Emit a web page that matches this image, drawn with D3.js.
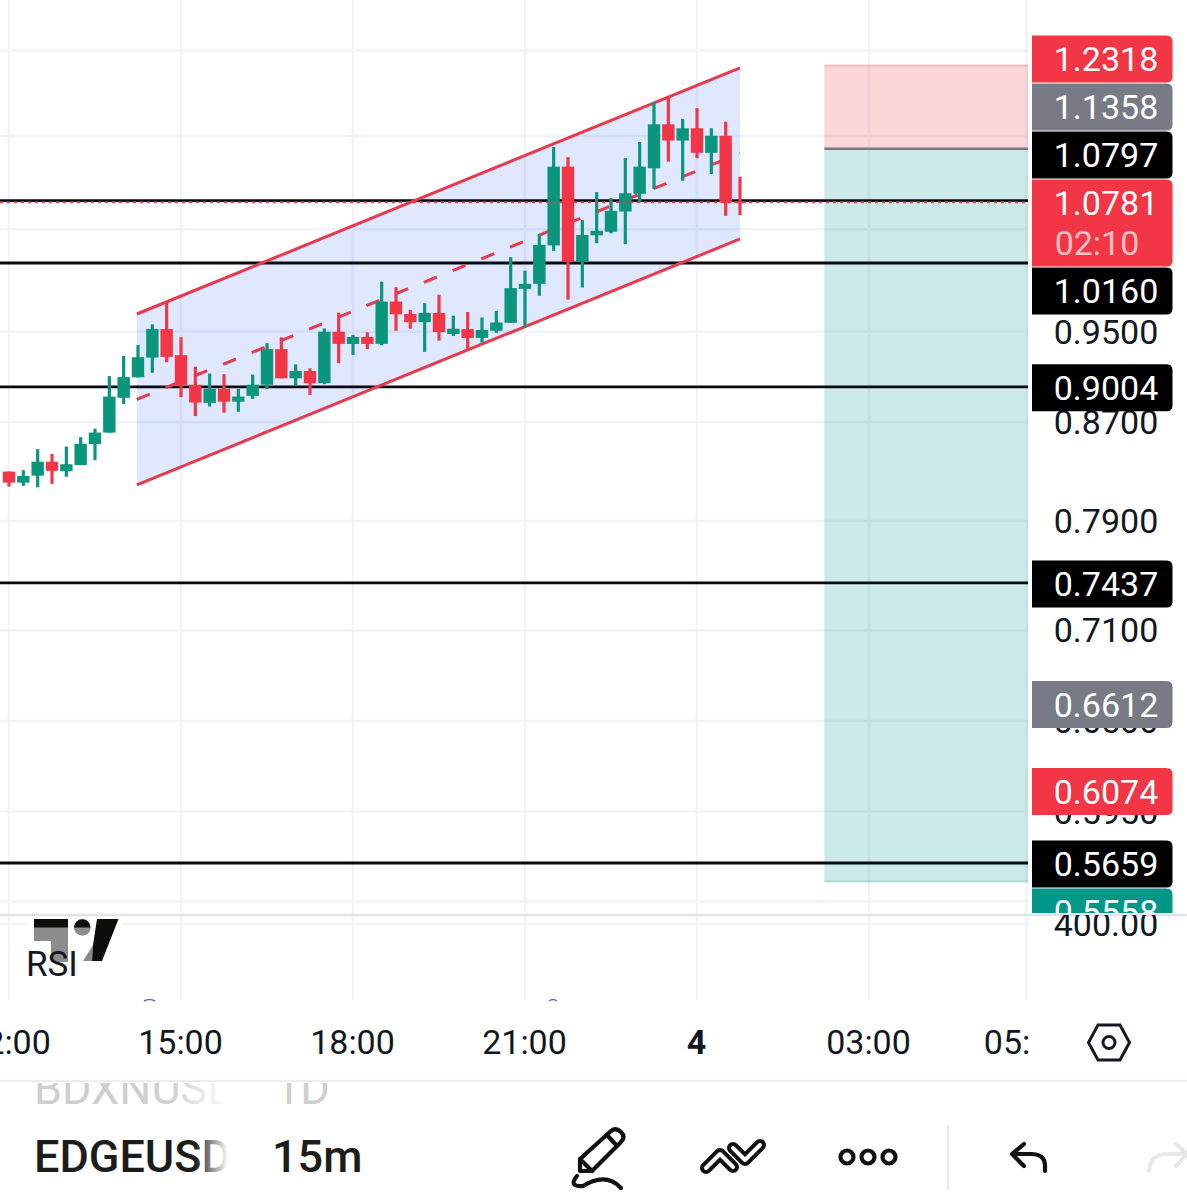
<!DOCTYPE html>
<html><head><meta charset="utf-8">
<script src="https://cdn.jsdelivr.net/npm/d3@7/dist/d3.min.js"></script>
<style>html,body{margin:0;background:#fff}svg{display:block}text{font-family:Roboto,sans-serif}</style>
</head><body><svg id="c" width="1187" height="1200"></svg>
<script>
// 15-minute candles, first one at 12:00
const firstHour = 12;
const opens  = [.8290,.8201,.8257,.8370,.8293,.8343,.8515,.8611,.8908,.9088,.9265,.9526,.9286,.9023,.8864,.8986,.8875,.8925,.9023,.9341,.9079,.9144,.9036,.9501,.9389,.9453,.9389,.9785,.9667,.9590,.9677,.9480,.9526,.9444,.9510,.9584,.9907,.9955,1.0336,1.1161,1.0174,1.0438,1.0474,1.0683,1.0869,1.1143,1.1632,1.1449,1.1587,1.1313,1.1502,1.0790];
const highs  = [.8290,.8301,.8473,.8434,.8495,.8573,.8644,.9099,.9280,.9380,.9571,.9785,.9450,.9183,.9122,.9116,.8986,.9113,.9396,.9450,.9204,.9168,.9532,.9680,.9471,.9496,.9977,.9923,.9706,.9770,.9850,.9651,.9686,.9635,.9696,1.0218,1.0084,1.0451,1.1376,1.1265,1.0596,1.0887,1.0824,1.1254,1.1432,1.1887,1.1945,1.1693,1.1817,1.1587,1.1662,1.1051];
const lows   = [.8169,.8175,.8164,.8191,.8248,.8343,.8382,.8611,.8855,.9088,.9128,.9223,.8914,.8751,.8832,.8780,.8788,.8899,.8983,.9079,.9012,.8934,.9028,.9214,.9289,.9341,.9377,.9510,.9529,.9316,.9419,.9462,.9341,.9401,.9492,.9584,.9541,.9840,1.0281,.9802,.9920,1.0358,1.0458,1.0348,1.0778,1.0921,1.1216,1.1009,1.1254,1.1080,1.0638,1.0645];
const closes = [.8201,.8254,.8370,.8296,.8349,.8517,.8611,.8919,.9090,.9268,.9526,.9271,.9021,.8867,.8986,.8875,.8919,.9023,.9341,.9079,.9144,.9036,.9501,.9389,.9453,.9389,.9785,.9664,.9590,.9677,.9498,.9529,.9444,.9517,.9587,.9914,.9955,1.0341,1.1161,1.0174,1.0441,1.0484,1.0690,1.0876,1.1161,1.1632,1.1449,1.1587,1.1313,1.1502,1.0778,1.0781];

// Drawn channel: [start, end]
const channelHours = [14.23, 24.75];
const channelTop = [.9667, 1.2291];
const channelMid = [.8894, 1.1308];
const channelBottom = [.8183, 1.0401];

// Horizontal levels and last price
const levels = [1.0797, 1.0160, .9004, .7437, .5659];
const lastPrice = 1.0781;

// Short position tool
const positionStartHour = 26.22;
const stopPrice = 1.2318, entryPrice = 1.1358, targetPrice = .5558;

// Axis ticks: grid lines for all, labels only where not fully hidden by a tag
const gridPrices = [1.25, 1.15, 1.05, .95, .87, .79, .71, .65, .595, .545];
const priceTicks = [.95, .87, .79, .71, .65, .595];
const timeTicks = [12, 15, 18, 21, 24, 27, 29.75];
const timeLabels = ["12:00", "15:00", "18:00", "21:00", "4", "03:00", "05:45"];
const rsiTickLabels = ["400.00"];

// Right-hand price tags
const stackedTags = [
  {t:"1.2318", c:"#F23645"}, {t:"1.1358", c:"#787B86"}, {t:"1.0797", c:"#000000"},
  {t:"1.0781", sub:"02:10", c:"#F23645"}, {t:"1.0160", c:"#000000"}];
const freeTags = [
  {v:.9004, c:"#000000"}, {v:.7437, c:"#000000"}, {v:.6612, c:"#787B86"},
  {v:.6074, c:"#F23645"}, {v:.5659, c:"#000000"}];
const lastTag = {t:"0.5558", c:"#009688"};

const RED = "#F23645", GREEN = "#0A967D", GRID = "#F0F3F8", INK = "#131722";
const chartRight = 1028, paneBottom = 915, rsiBottom = 1000;

const svg = d3.select("#c");
const defs = svg.append("defs");
const clip = (id, x, y, w, h) => defs.append("clipPath").attr("id", id).append("rect").attr("x", x).attr("y", y).attr("width", w).attr("height", h);
clip("pane", 0, 0, chartRight, paneBottom);
clip("timeClip", 0, 1005, 1029, 75);
clip("tagClip", 1030, 0, 157, 913);
clip("rsiClip", 1030, 915, 157, 60);
clip("symClip", 0, 1083, 228, 117);
clip("sideClip", 260, 1083, 100, 40);

const x = d3.scaleLinear().domain([15, 24]).range([181, 697]);
const y = d3.scaleLog().domain([.5659, 1.016]).range([863, 263]);

// Grid
const grid = svg.append("g").attr("stroke", GRID).attr("stroke-width", 2.5);
grid.selectAll(".v").data(timeTicks).join("line").attr("x1", d => x(d)).attr("x2", d => x(d)).attr("y1", 0).attr("y2", rsiBottom);
grid.selectAll(".h").data(gridPrices).join("line").attr("x1", 0).attr("x2", chartRight).attr("y1", d => y(d)).attr("y2", d => y(d));
grid.append("line").attr("x1", 0).attr("x2", chartRight).attr("y1", 924).attr("y2", 924);

const pane = svg.append("g").attr("clip-path", "url(#pane)");

// Position
const px = x(positionStartHour);
pane.append("rect").attr("x", px).attr("width", chartRight - px).attr("y", y(stopPrice)).attr("height", y(entryPrice) - y(stopPrice)).attr("fill", "rgba(242,54,69,.2)");
pane.append("rect").attr("x", px).attr("width", chartRight - px).attr("y", y(entryPrice)).attr("height", y(targetPrice) - y(entryPrice)).attr("fill", "rgba(0,150,136,.2)");
pane.append("line").attr("x1", px).attr("x2", chartRight).attr("y1", y(stopPrice)).attr("y2", y(stopPrice)).attr("stroke", "rgba(242,54,69,.25)").attr("stroke-width", 2);
pane.append("line").attr("x1", px).attr("x2", chartRight).attr("y1", y(targetPrice)).attr("y2", y(targetPrice)).attr("stroke", "rgba(0,150,136,.25)").attr("stroke-width", 2);
pane.append("line").attr("x1", px).attr("x2", chartRight).attr("y1", y(entryPrice)).attr("y2", y(entryPrice)).attr("stroke", "#787B86").attr("stroke-width", 2.5);

// Channel
const seg = p => `M${x(channelHours[0])},${y(p[0])}L${x(channelHours[1])},${y(p[1])}`;
pane.append("path").attr("fill", "rgba(41,98,255,.15)")
  .attr("d", `M${x(channelHours[0])},${y(channelTop[0])}L${x(channelHours[1])},${y(channelTop[1])}L${x(channelHours[1])},${y(channelBottom[1])}L${x(channelHours[0])},${y(channelBottom[0])}Z`);

// Levels
pane.selectAll(".lvl").data(levels).join("line").attr("x1", 0).attr("x2", chartRight)
  .attr("y1", d => y(d)).attr("y2", d => y(d)).attr("stroke", "#0A0A12").attr("stroke-width", 2.8);

[channelTop, channelBottom].forEach(p => pane.append("path").attr("d", seg(p)).attr("fill", "none").attr("stroke", "#E8394F").attr("stroke-width", 3));
pane.append("path").attr("d", seg(channelMid)).attr("fill", "none").attr("stroke", "#E8394F").attr("stroke-width", 3).attr("stroke-dasharray", "14,17");

// Candles
const candles = opens.map((o, i) => ({h: firstHour + i * .25, o, hi: highs[i], lo: lows[i], c: closes[i]}));
const col = d => d.c >= d.o ? GREEN : RED;
const cg = pane.append("g");
cg.selectAll(".w").data(candles).join("line").attr("x1", d => x(d.h)).attr("x2", d => x(d.h))
  .attr("y1", d => y(d.hi)).attr("y2", d => y(d.lo)).attr("stroke", col).attr("stroke-width", 3.2);
cg.selectAll(".b").data(candles).join("rect").attr("x", d => x(d.h) - 6.2).attr("width", 12.4)
  .attr("y", d => y(Math.max(d.o, d.c))).attr("height", d => Math.max(1.5, Math.abs(y(d.o) - y(d.c)))).attr("fill", col);

// Last price
pane.append("line").attr("x1", 0).attr("x2", chartRight).attr("y1", y(lastPrice)).attr("y2", y(lastPrice))
  .attr("stroke", RED).attr("stroke-width", 2).attr("stroke-dasharray", "3,4");

// Pane divider
svg.append("line").attr("x1", 0).attr("x2", 1187).attr("y1", paneBottom).attr("y2", paneBottom).attr("stroke", "#E0E3EB").attr("stroke-width", 2.5);

// Price axis
const fs = 34;
const yaOuter = svg.append("g").attr("clip-path", "url(#tagClip)");
const ya = yaOuter.append("g").attr("transform", "translate(1030,0)")
  .call(d3.axisRight(y).tickValues(priceTicks).tickFormat(d3.format(".4f")).tickSize(0));
ya.select(".domain").remove();
ya.selectAll("text").attr("x", 76).attr("text-anchor", "middle").attr("dy", ".34em").attr("font-size", fs).attr("font-family", "Roboto").attr("fill", INK);

// RSI axis value
svg.append("g").attr("clip-path", "url(#rsiClip)").selectAll("text").data(rsiTickLabels).join("text")
  .attr("x", 1106).attr("y", 924).attr("dy", ".36em").attr("text-anchor", "middle").attr("font-size", fs).attr("fill", INK).text(d => d);

// Price tags
const tagG = svg.append("g").attr("clip-path", "url(#tagClip)");
const tagPath = (t, h) => { const l = 1032, r = 1172.5, c = 6, b = t + h;
  return `M${l},${t}H${r-c}Q${r},${t} ${r},${t+c}V${b-c}Q${r},${b} ${r-c},${b}H${l}Z`; };
function tag(center, h, text, color, sub) {
  const top = center - 23.5;
  tagG.append("path").attr("d", tagPath(top, h)).attr("fill", color);
  tagG.append("text").attr("x", 1106).attr("y", center).attr("dy", ".36em").attr("text-anchor", "middle").attr("font-size", fs).attr("fill", "#fff").text(text);
  if (sub) tagG.append("text").attr("x", 1106 - 9).attr("y", center + 40).attr("dy", ".36em").attr("text-anchor", "middle").attr("font-size", fs).attr("fill", "rgba(255,255,255,.7)").text(sub);
}
let cy = 59;
stackedTags.forEach(d => { tag(cy, d.sub ? 87 : 47, d.t, d.c, d.sub); cy += d.sub ? 88 : 48; });
freeTags.forEach(d => tag(y(d.v) + 1, 47, d3.format(".4f")(d.v), d.c));
tag(y(freeTags[4].v) + 49, 47, lastTag.t, lastTag.c);

// Logo and RSI title
const logo = svg.append("g");
logo.append("rect").attr("x", 28).attr("y", 917).attr("width", 95).attr("height", 46).attr("fill", "#fff");
logo.append("path").attr("d", "M34,919H68V962H51V941H34Z").attr("fill", "#8C8C8C");
logo.append("rect").attr("x", 34).attr("y", 919).attr("width", 34).attr("height", 8.5).attr("fill", "#0D0D0D");
logo.append("circle").attr("cx", 82.3).attr("cy", 927.5).attr("r", 8.3).attr("fill", "#8C8C8C");
logo.append("path").attr("d", "M74,927.5A8.3,8.3 0 0 1 90.6,927.5Z").attr("fill", "#0D0D0D");
logo.append("path").attr("d", "M93,945L83,961H92Z").attr("fill", "#8C8C8C");
logo.append("path").attr("d", "M97,919H118.5L102,961H92L93,945Z").attr("fill", "#0D0D0D");
svg.append("text").attr("x", 26).attr("y", 976).attr("font-size", 35).attr("fill", INK).text("RSI");

// RSI line tips peeking in at the bottom of the pane
[[144, 155], [549, 557]].forEach(([a, b]) => svg.append("path").attr("d", `M${a},1001Q${(a+b)/2},998 ${b},1001`).attr("fill", "none").attr("stroke", "#7E57C2").attr("stroke-width", 1.5));

// Time axis
const xInner = svg.append("g").attr("clip-path", "url(#timeClip)").append("g").attr("transform", "translate(-1,1042)")
  .call(d3.axisBottom(x).tickValues(timeTicks).tickFormat((d, i) => timeLabels[i]).tickSize(0));
xInner.select(".domain").remove();
xInner.selectAll("text").attr("y", 0).attr("dy", ".36em").attr("font-size", fs).attr("font-family", "Roboto").attr("fill", INK)
  .attr("font-weight", (d, i) => timeLabels[i] === "4" ? 700 : 400);

// Settings icon
svg.append("path").attr("d", "M1098,1025H1120L1129.5,1042.5L1120,1060H1098L1088.5,1042.5Z").attr("fill", "none").attr("stroke", INK).attr("stroke-width", 3);
svg.append("circle").attr("cx", 1109).attr("cy", 1042.5).attr("r", 6).attr("fill", "none").attr("stroke", INK).attr("stroke-width", 3);

// Toolbar
svg.append("line").attr("x1", 0).attr("x2", 1187).attr("y1", 1081).attr("y2", 1081).attr("stroke", "#EDEDED").attr("stroke-width", 2.5);
const grad = defs.append("linearGradient").attr("id", "fadeD").attr("gradientUnits", "userSpaceOnUse").attr("x1", 195).attr("x2", 228).attr("y1", 0).attr("y2", 0);
grad.append("stop").attr("offset", 0).attr("stop-color", "#1c1c1c");
grad.append("stop").attr("offset", 1).attr("stop-color", "#1c1c1c").attr("stop-opacity", 0);
const gradB = defs.append("linearGradient").attr("id", "fadeB").attr("gradientUnits", "userSpaceOnUse").attr("x1", 170).attr("x2", 228).attr("y1", 0).attr("y2", 0);
gradB.append("stop").attr("offset", 0).attr("stop-color", "#cfcfcf");
gradB.append("stop").attr("offset", 1).attr("stop-color", "#cfcfcf").attr("stop-opacity", 0);
const sym = svg.append("g").attr("clip-path", "url(#symClip)").attr("font-size", 45).attr("font-weight", 500);
sym.append("text").attr("x", 34).attr("y", 1104).attr("fill", "url(#fadeB)").attr("font-weight", 400).text("BDXNUSDT");
sym.append("text").attr("x", 34).attr("y", 1172).attr("fill", "url(#fadeD)").text("EDGEUSDT");
svg.append("text").attr("x", 272).attr("y", 1172).attr("font-size", 45).attr("font-weight", 500).attr("fill", "#1c1c1c").text("15m");
svg.append("text").attr("clip-path", "url(#sideClip)").attr("x", 275).attr("y", 1104).attr("font-size", 45).attr("fill", "#cfcfcf").text("1D");

const ic = svg.append("g").attr("fill", "none").attr("stroke", "#111").attr("stroke-width", 4.2).attr("stroke-linecap", "round").attr("stroke-linejoin", "round");
ic.append("path").attr("d", "M580,1171V1159L611,1131Q616,1127 621,1132Q626,1137 621,1142L592,1171Z");
ic.append("path").attr("d", "M580,1159L592,1171M607,1135L617,1146");
ic.append("path").attr("d", "M577,1176Q568,1187 583,1186Q606,1172 621,1188");
ic.append("path").attr("d", "M706,1168L720,1154L733,1167M733,1148L745,1160L760,1145").attr("stroke-width", 12);
ic.append("path").attr("d", "M706,1168L720,1154L733,1167M733,1148L745,1160L760,1145").attr("stroke", "#fff").attr("stroke-width", 4);
[847, 868, 889].forEach(c => ic.append("circle").attr("cx", c).attr("cy", 1157).attr("r", 6.5));
ic.append("path").attr("d", "M1045,1171V1166Q1045,1154 1031,1154H1013M1024,1144L1012,1154L1024,1166");
ic.append("path").attr("d", "M1149,1171Q1150,1154 1168,1154H1187M1176,1144L1187,1154L1176,1166").attr("stroke", "#E8E8E8");
svg.append("line").attr("x1", 948).attr("x2", 948).attr("y1", 1125).attr("y2", 1190).attr("stroke", "#E8E8E8").attr("stroke-width", 2);
</script></body></html>
